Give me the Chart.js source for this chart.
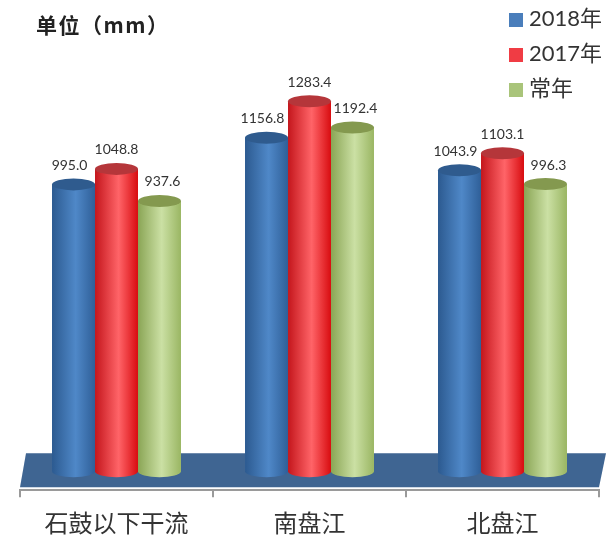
<!DOCTYPE html>
<html>
<head>
<meta charset="utf-8">
<script src="https://cdn.jsdelivr.net/npm/chart.js@4/dist/chart.umd.min.js"></script>
<style>
    body { margin: 0; background: #fff; width: 608px; height: 541px; position: relative; overflow: hidden; }
    #title { position: absolute; left: 36px; top: 9px; font: bold 21px "Noto Sans CJK SC"; letter-spacing: 1.5px; color: #222; line-height: 30px; }
    #legend { position: absolute; left: 509px; top: 0; font: 22px Lato, "Noto Sans CJK SC"; color: #333; }
    #legend div { position: absolute; white-space: nowrap; line-height: 30px; padding-left: 20px; }
    #legend i { position: absolute; left: 0; top: 8px; width: 14px; height: 14px; }
    #legend span { position: relative; top: -2px; }
</style>
</head>
<body>
<canvas id="rainChart" width="608" height="541"></canvas>
<div id="title">单位（mm）</div>
<div id="legend"></div>
<script>
// --- Data ---
const categories = ["石鼓以下干流", "南盘江", "北盘江"];
const seriesNames = ["2018年", "2017年", "常年"];
const values2018 = [995.0, 1156.8, 1043.9];
const values2017 = [1048.8, 1283.4, 1103.1];
const valuesNormal = [937.6, 1192.4, 996.3];

// --- Cylinder colours: left edge, highlight, right edge, top cap ---
const cylinderColors = [
    { left: "#2c5a90", mid: "#4f88c8", right: "#2f5f98", cap: "#2f5b8e", legend: "#4a7ebb" },
    { left: "#c4161c", mid: "#ff6468", right: "#d80c10", cap: "#b5363a", legend: "#f03c44" },
    { left: "#8aa555", mid: "#cbe0a4", right: "#9ab663", cap: "#84994f", legend: "#a9c47a" }
];

// Legend is plain html so it can sit above the plot like in the original
const legendEl = document.getElementById("legend");
seriesNames.forEach((name, i) => {
    const row = document.createElement("div");
    row.style.top = (5 + i * 35) + "px";
    row.innerHTML = '<i style="background:' + cylinderColors[i].legend + '"></i><span>' + name + '</span>';
    legendEl.appendChild(row);
});

const CAP_RY = 6;
// Outer labels sit slightly away from the middle bar so they don't run into it
const labelShift = [-4, 0, 3];

function formatValue(v) {
    return v.toFixed(1);
}

const floorPlugin = {
    id: "floor",
    beforeDatasetsDraw(chart) {
        const { ctx, chartArea } = chart;
        ctx.save();
        ctx.fillStyle = "#3f6592";
        ctx.beginPath();
        ctx.moveTo(chartArea.left, chartArea.bottom - 3);
        ctx.lineTo(chartArea.left + 6, chartArea.bottom - 37);
        ctx.lineTo(chartArea.right + 7, chartArea.bottom - 37);
        ctx.lineTo(chartArea.right, chartArea.bottom - 3);
        ctx.closePath();
        ctx.fill();
        ctx.restore();
    }
};

const cylinderPlugin = {
    id: "cylinder",
    afterDatasetDraw(chart, args) {
        const { ctx } = chart;
        const colors = cylinderColors[args.index];
        args.meta.data.forEach((bar, i) => {
            const rx = bar.width / 2;
            const left = bar.x - rx;
            const gradient = ctx.createLinearGradient(left, 0, left + bar.width, 0);
            gradient.addColorStop(0, colors.left);
            gradient.addColorStop(0.55, colors.mid);
            gradient.addColorStop(1, colors.right);

            ctx.save();
            ctx.fillStyle = gradient;
            ctx.beginPath();
            ctx.moveTo(left, bar.y);
            ctx.lineTo(left, bar.base);
            ctx.ellipse(bar.x, bar.base, rx, CAP_RY, 0, Math.PI, 0, true);
            ctx.lineTo(left + bar.width, bar.y);
            ctx.closePath();
            ctx.fill();

            ctx.fillStyle = colors.cap;
            ctx.beginPath();
            ctx.ellipse(bar.x, bar.y, rx, CAP_RY, 0, 0, Math.PI * 2);
            ctx.fill();
            ctx.restore();
        });
    },
    // Labels go last so no later bar paints over them
    afterDatasetsDraw(chart) {
        const { ctx } = chart;
        ctx.save();
        ctx.fillStyle = "#333";
        ctx.font = '14px Lato';
        ctx.textAlign = "center";
        ctx.textBaseline = "middle";
        chart.data.datasets.forEach((dataset, d) => {
            chart.getDatasetMeta(d).data.forEach((bar, i) => {
                ctx.fillText(formatValue(dataset.data[i]), bar.x + labelShift[d], bar.y - 19);
            });
        });
        ctx.restore();
    }
};

const dataSeries = [values2018, values2017, valuesNormal];

new Chart(document.getElementById("rainChart").getContext("2d"), {
    type: "bar",
    data: {
        labels: categories,
        datasets: seriesNames.map((name, i) => ({
            label: name,
            data: dataSeries[i],
            backgroundColor: cylinderColors[i].mid,
            barPercentage: 1,
            categoryPercentage: 0.668
        }))
    },
    options: {
        responsive: false,
        animation: false,
        layout: { padding: { left: 20, right: 9, top: 10, bottom: 5 } },
        plugins: {
            legend: { display: false },
            tooltip: { enabled: false }
        },
        scales: {
            x: {
                afterFit(scale) {
                    scale.height -= 12;
                },
                border: { color: "#9a9a9a", width: 2 },
                grid: { drawOnChartArea: false, color: "#9a9a9a", tickLength: 7, lineWidth: 2 },
                ticks: {
                    color: "#333",
                    padding: 11,
                    maxRotation: 0,
                    font: { family: "Noto Sans CJK SC", size: 24 }
                }
            },
            y: {
                display: false,
                min: -66,
                max: 1600
            }
        }
    },
    plugins: [floorPlugin, cylinderPlugin]
});
</script>
</body>
</html>
